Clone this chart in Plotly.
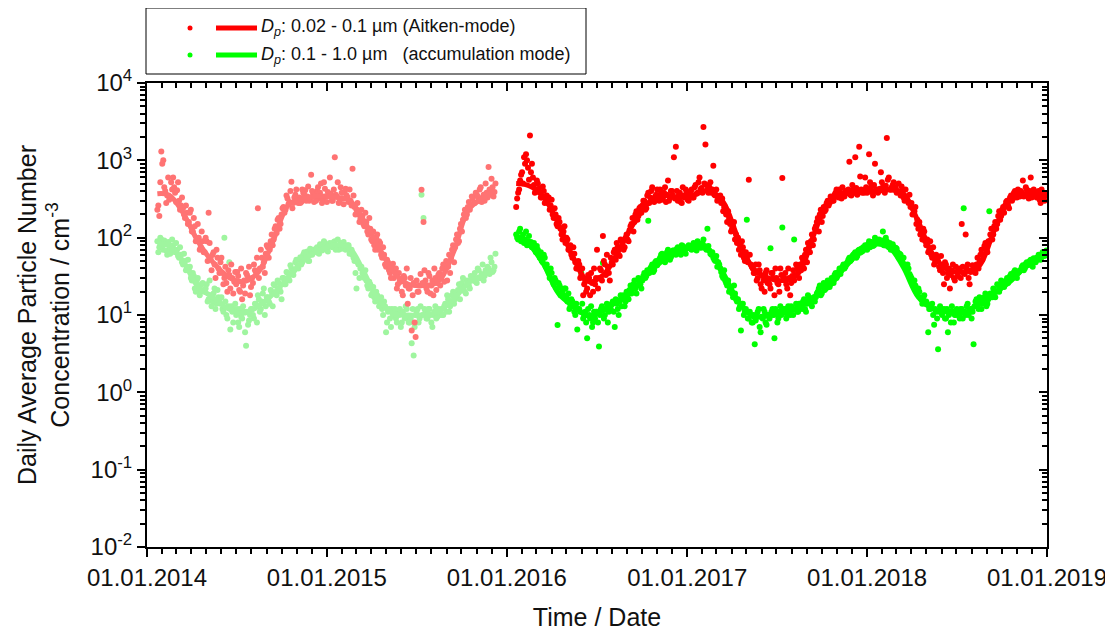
import pandas as pd
import plotly.graph_objects as go

# ---- daily averages ----
# two interleaved sets per period: days 0, 4, 8, ... and days 2, 6, 10, ...
P1_START = "2014-01-22"
P1_START_MID = "2014-01-24"
P2_START = "2016-01-20"
P2_START_MID = "2016-01-22"

aitken_p1 = [
    230, 190, 1300, 1000, 400, 350, 310, 520,
    600, 380, 410, 300, 260, 240, 180, 210,
    160, 230, 120, 140, 95, 100, 75, 90,
    65, 90, 210, 55, 60, 45, 70, 40,
    48, 35, 30, 26, 38, 22, 30, 27,
    25, 32, 20, 16, 28, 35, 30, 18,
    30, 45, 36, 240, 40, 55, 48, 62,
    75, 70, 110, 95, 140, 170, 130, 200,
    250, 230, 320, 290, 530, 280, 360, 310,
    330, 290, 380, 410, 340, 300, 650, 370,
    360, 400, 320, 500, 310, 430, 290, 350,
    370, 300, 1100, 340, 280, 450, 320, 390,
    350, 290, 300, 780, 250, 230, 200, 175,
    190, 140, 160, 110, 130, 90, 80, 100,
    70, 85, 55, 60, 42, 48, 35, 40,
    30, 40, 25, 28, 20, 32, 24, 14,
    22, 6.3, 26, 5.2, 20, 24, 415, 160,
    28, 20, 32, 24, 18, 30, 26, 35,
    30, 45, 38, 28, 60, 55, 80, 75,
    110, 90, 150, 170, 230, 200, 290, 260,
    320, 280, 360, 300, 450, 330, 300, 380,
    820, 360, 450, 390,
]
aitken_p1_mid = [
    260, 520, 900, 450, 280, 600, 330, 420,
    450, 290, 520, 230, 330, 200, 260, 150,
    210, 120, 180, 90, 150, 70, 120, 65,
    100, 50, 85, 38, 65, 30, 55, 35,
    55, 25, 42, 20, 33, 45, 19, 36,
    36, 21, 40, 24, 19, 33, 42, 23,
    26, 38, 55, 30, 70, 42, 35, 80,
    55, 90, 80, 130, 115, 180, 150, 240,
    210, 350, 270, 400, 240, 330, 420, 280,
    280, 420, 360, 300, 460, 320, 400, 290,
    300, 450, 380, 280, 520, 340, 390, 600,
    300, 420, 360, 520, 300, 380, 270, 430,
    330, 420, 260, 350, 200, 280, 160, 230,
    150, 210, 120, 180, 95, 120, 70, 110,
    90, 60, 75, 45, 52, 38, 30, 46,
    38, 22, 35, 27, 18, 30, 40, 22,
    30, 18, 8, 28, 20, 34, 26, 38,
    22, 35, 19, 28, 40, 21, 33, 24,
    40, 27, 50, 42, 35, 70, 48, 95,
    85, 130, 120, 200, 180, 250, 230, 340,
    280, 380, 340, 420, 290, 360, 500, 330,
    420, 580, 340, 500,
]

accum_p1 = [
    90, 75, 95, 70, 85, 60, 80, 72,
    80, 65, 70, 55, 60, 45, 50, 42,
    38, 30, 35, 22, 28, 24, 20, 26,
    20, 25, 16, 18, 15, 22, 14, 17,
    14, 12, 100, 10, 13, 6.5, 11, 12,
    10, 8, 12, 9, 11, 4, 7.5, 10,
    12, 9, 14, 18, 11, 15, 22, 13,
    17, 14, 20, 25, 19, 28, 22, 16,
    30, 25, 35, 28, 40, 33, 48, 42,
    52, 45, 60, 55, 66, 50, 62, 70,
    68, 75, 62, 80, 70, 85, 72, 78,
    82, 75, 90, 78, 70, 85, 76, 80,
    72, 80, 65, 60, 50, 22, 45, 40,
    35, 30, 28, 22, 25, 19, 17, 20,
    16, 14, 12, 15, 6, 11, 9, 12,
    10, 9, 11, 12, 8, 10, 13, 9,
    8, 4.3, 3.0, 10, 12, 9, 360, 180,
    11, 9, 12, 8, 10, 13, 9.5, 11,
    12, 10, 14, 18, 11, 15, 20, 16,
    18, 25, 22, 30, 20, 28, 24, 32,
    28, 35, 26, 38, 30, 45, 32, 36,
    40, 55, 36, 42,
]
accum_p1_mid = [
    65, 100, 78, 92, 68, 88, 62, 95,
    70, 85, 58, 75, 48, 62, 38, 52,
    42, 28, 32, 20, 30, 18, 25, 21,
    22, 15, 28, 13, 19, 12, 21, 15,
    17, 11, 15, 9, 48, 13, 8, 14,
    12, 7, 9.5, 13, 6, 11, 8.5, 12,
    10, 14, 8, 16, 12, 19, 10, 17,
    15, 21, 13, 24, 18, 26, 20, 30,
    25, 36, 30, 44, 34, 38, 52, 40,
    56, 48, 65, 58, 50, 72, 60, 68,
    72, 64, 82, 68, 90, 74, 66, 85,
    76, 88, 70, 95, 80, 72, 88, 70,
    80, 62, 70, 55, 35, 48, 30, 42,
    32, 38, 24, 27, 18, 23, 15, 18,
    13, 17, 10, 13, 8, 12, 7, 10,
    12, 8, 10, 7, 11, 9, 12, 8,
    9, 12, 7, 11, 8, 13, 10, 12,
    9, 12, 10, 7, 11, 9, 12, 10,
    10, 13, 11, 16, 13, 18, 14, 19,
    21, 16, 26, 23, 19, 27, 22, 29,
    32, 27, 40, 30, 34, 28, 38, 42,
    34, 48, 38, 62,
]

aitken_p2 = [
    250, 380, 550, 700, 1100, 1200, 800, 2100,
    900, 480, 420, 500, 380, 330, 400, 290,
    280, 230, 310, 180, 200, 140, 160, 110,
    120, 85, 95, 70, 60, 75, 48, 40,
    45, 32, 18, 28, 22, 30, 35, 20,
    25, 70, 30, 38, 105, 45, 60, 35,
    55, 45, 70, 85, 60, 95, 80, 75,
    110, 90, 140, 180, 160, 220, 190, 250,
    260, 300, 240, 380, 330, 450, 290, 360,
    350, 420, 310, 380, 290, 550, 330, 400,
    1100, 1500, 300, 380, 280, 350, 420, 310,
    360, 420, 330, 480, 380, 600, 440, 2700,
    1600, 420, 450, 380, 850, 350, 300, 320,
    280, 220, 250, 160, 180, 120, 140, 95,
    85, 70, 60, 75, 50, 55, 560, 45,
    40, 35, 28, 45, 25, 32, 20, 38,
    28, 22, 35, 18, 30, 25, 40, 590,
    30, 25, 40, 18, 32, 28, 45, 38,
    45, 55, 40, 70, 85, 65, 110, 95,
    140, 180, 200, 160, 250, 230, 300, 280,
    330, 300, 380, 350, 420, 320, 370, 400,
    380, 960, 350, 420, 1100, 360, 1500, 420,
    410, 600, 380, 1200, 450, 350, 900, 420,
    400, 700, 450, 380, 1950, 600, 420, 480,
    420, 380, 500, 350, 400, 300, 330, 280,
    250, 200, 220, 150, 130, 110, 95, 120,
    80, 65, 90, 55, 45, 60, 50, 38,
    40, 25, 45, 35, 22, 38, 30, 42,
    32, 40, 150, 35, 110, 45, 25, 38,
    42, 35, 55, 48, 70, 60, 85, 65,
    90, 130, 110, 160, 150, 220, 190, 250,
    260, 300, 240, 350, 320, 400, 330, 380,
    400, 550, 360, 420, 320, 600, 380, 350,
    330, 400, 280, 370, 300, 350,
]
aitken_p2_mid = [
    320, 420, 650, 500, 900, 1000, 560, 700,
    600, 380, 550, 430, 330, 460, 280, 350,
    330, 260, 200, 240, 150, 180, 130, 95,
    140, 100, 70, 80, 55, 62, 40, 50,
    30, 40, 25, 20, 33, 18, 26, 40,
    30, 22, 40, 28, 50, 33, 42, 28,
    48, 65, 52, 75, 58, 90, 70, 100,
    95, 125, 150, 120, 200, 170, 240, 210,
    300, 230, 350, 280, 400, 310, 340, 420,
    300, 380, 330, 450, 360, 300, 400, 350,
    320, 400, 350, 290, 450, 330, 380, 300,
    400, 330, 450, 370, 520, 420, 380, 500,
    480, 380, 520, 420, 360, 420, 320, 350,
    320, 250, 200, 220, 150, 130, 160, 110,
    100, 80, 90, 55, 65, 48, 60, 42,
    35, 45, 30, 38, 22, 28, 35, 26,
    25, 35, 30, 40, 26, 20, 33, 30,
    35, 22, 30, 26, 38, 33, 40, 30,
    38, 50, 60, 48, 75, 90, 80, 130,
    160, 120, 230, 190, 220, 280, 260, 340,
    300, 360, 420, 330, 380, 450, 340, 390,
    420, 360, 480, 380, 440, 400, 620, 380,
    380, 450, 420, 520, 390, 480, 420, 380,
    430, 520, 400, 470, 560, 420, 450, 520,
    450, 400, 380, 460, 330, 420, 300, 360,
    280, 230, 250, 170, 160, 120, 130, 90,
    95, 70, 60, 75, 50, 55, 42, 58,
    35, 48, 30, 40, 33, 45, 28, 36,
    38, 30, 42, 34, 40, 30, 36, 44,
    36, 45, 40, 60, 52, 78, 70, 90,
    110, 95, 140, 130, 190, 170, 230, 210,
    290, 260, 330, 300, 380, 350, 420, 340,
    380, 340, 450, 370, 400, 330, 420, 390,
    380, 310, 420, 330, 360,
]

accum_p2 = [
    110, 95, 130, 100, 85, 120, 90, 80,
    75, 85, 65, 70, 55, 50, 60, 42,
    38, 30, 35, 25, 28, 7.4, 24, 22,
    18, 22, 15, 12, 16, 13, 10, 6.5,
    12, 35, 9, 11, 5, 10, 13, 8,
    9, 11, 3.9, 12, 47, 10, 14, 11,
    12, 15, 7, 14, 10, 18, 16, 13,
    20, 16, 24, 22, 28, 19, 30, 25,
    28, 35, 32, 165, 40, 45, 38, 50,
    48, 55, 62, 50, 58, 70, 52, 65,
    68, 60, 75, 65, 80, 70, 62, 74,
    78, 70, 85, 72, 90, 76, 80, 95,
    75, 130, 68, 60, 55, 50, 42, 45,
    36, 30, 28, 24, 20, 22, 17, 19,
    15, 12, 6.3, 14, 11, 170, 9, 10,
    8, 4.2, 10, 12, 6, 9, 11, 7.5,
    10, 73, 12, 5, 11, 9, 13, 135,
    11, 9, 13, 10, 12, 95, 14, 11,
    14, 12, 16, 11, 18, 15, 13, 17,
    17, 20, 24, 19, 26, 22, 28, 23,
    30, 26, 35, 32, 40, 38, 45, 42,
    48, 55, 52, 60, 65, 58, 70, 72,
    75, 80, 70, 90, 85, 78, 100, 88,
    95, 85, 120, 80, 90, 75, 70, 82,
    68, 72, 55, 60, 48, 45, 38, 40,
    32, 26, 28, 20, 22, 17, 14, 18,
    15, 6, 12, 14, 7.5, 11, 3.6, 13,
    10, 12, 9, 6, 11, 13, 8, 10,
    11, 9, 12, 240, 10, 14, 11, 9,
    4.2, 15, 13, 17, 12, 16, 19, 14,
    220, 18, 22, 17, 25, 20, 28, 24,
    26, 30, 28, 34, 32, 38, 30, 36,
    38, 44, 40, 48, 45, 52, 42, 50,
    55, 60, 52, 65, 58, 68,
]
accum_p2_mid = [
    100, 120, 90, 110, 95, 80, 105, 88,
    82, 70, 78, 60, 65, 48, 55, 45,
    35, 40, 28, 30, 22, 26, 18, 20,
    22, 17, 19, 13, 15, 11, 14, 12,
    11, 14, 10, 8, 12, 9, 7, 11,
    11, 8, 10, 13, 9, 12, 8, 13,
    14, 11, 16, 12, 15, 13, 18, 15,
    17, 21, 19, 25, 22, 24, 27, 22,
    32, 30, 38, 35, 42, 36, 48, 44,
    52, 60, 55, 48, 65, 60, 56, 68,
    65, 72, 70, 60, 78, 68, 75, 80,
    72, 80, 75, 68, 82, 74, 85, 78,
    70, 78, 62, 65, 52, 58, 48, 40,
    32, 38, 26, 28, 22, 19, 24, 16,
    16, 13, 14, 10, 12, 9, 11, 8,
    10, 8.5, 11, 7, 9.5, 12, 8, 10,
    9, 11, 10, 12, 8, 11, 10, 12,
    12, 10, 11, 13, 10, 12, 11, 14,
    13, 15, 12, 14, 17, 14, 16, 15,
    19, 22, 18, 23, 21, 25, 24, 27,
    28, 33, 30, 36, 34, 42, 40, 46,
    52, 50, 58, 62, 55, 68, 64, 66,
    70, 76, 82, 75, 88, 80, 86, 92,
    88, 92, 80, 100, 78, 85, 72, 76,
    74, 65, 62, 52, 55, 42, 45, 34,
    30, 25, 24, 19, 20, 16, 17, 14,
    14, 12, 13, 10, 12, 9, 11, 12,
    11, 9, 12, 10, 8, 11, 10, 12,
    10, 12, 9, 11, 13, 10, 12, 11,
    13, 16, 12, 15, 14, 17, 13, 16,
    19, 17, 21, 20, 24, 22, 26, 23,
    28, 26, 32, 30, 36, 33, 35, 38,
    42, 38, 46, 44, 50, 47, 54, 48,
    52, 58, 56, 62, 60,
]

# ---- smoothed curves (thick lines) ----
smooth_dates_p1 = [
    "2014-01-22", "2014-02-15", "2014-03-15", "2014-04-15", "2014-05-15", "2014-06-15",
    "2014-07-15", "2014-08-15", "2014-09-15", "2014-10-15", "2014-11-15", "2014-12-15",
    "2015-01-15", "2015-02-15", "2015-03-15", "2015-04-15", "2015-05-15", "2015-06-15",
    "2015-07-15", "2015-08-15", "2015-09-15", "2015-10-15", "2015-11-15", "2015-12-07",
]
aitken_smooth_p1 = [370, 355, 210, 88, 48, 31, 27, 36, 95, 265, 320, 345,
                    335, 305, 175, 78, 37, 25, 24, 27, 65, 230, 330, 410]
accum_smooth_p1 = [85, 78, 50, 23, 17, 12, 10.5, 13, 19, 31, 51, 68,
                   80, 74, 38, 16, 10.5, 10, 10, 11, 16, 26, 33, 38]

smooth_dates_p2 = [
    "2016-01-20", "2016-02-15", "2016-03-15", "2016-04-15", "2016-05-15", "2016-06-15",
    "2016-07-15", "2016-08-15", "2016-09-15", "2016-10-15", "2016-11-15", "2016-12-15",
    "2017-01-15", "2017-02-15", "2017-03-15", "2017-04-15", "2017-05-15", "2017-06-15",
    "2017-07-15", "2017-08-15", "2017-09-15", "2017-10-15", "2017-11-15", "2017-12-15",
    "2018-01-15", "2018-02-15", "2018-03-15", "2018-04-15", "2018-05-15", "2018-06-15",
    "2018-07-15", "2018-08-15", "2018-09-15", "2018-10-15", "2018-11-15", "2018-12-15",
    "2018-12-31",
]
aitken_smooth_p2 = [500, 470, 340, 150, 55, 27, 33, 68, 155, 285, 350, 330,
                    360, 405, 290, 95, 40, 30, 28, 35, 110, 300, 365, 385,
                    395, 415, 375, 160, 60, 38, 36, 42, 120, 290, 370, 360, 340]
accum_smooth_p2 = [107, 82, 46, 19, 13, 9.7, 11.5, 15.5, 22, 35, 52, 65,
                   75, 68, 35, 15, 9.5, 9.8, 10.5, 12.5, 17, 23, 40, 63,
                   82, 75, 42, 17, 12, 10.8, 10.5, 14, 19, 26, 40, 55, 63]

y_tickvals = [0.01, 0.1, 1, 10, 100, 1000, 10000]
y_ticktext = ["10<sup>-2</sup>", "10<sup>-1</sup>", "10<sup>0</sup>", "10<sup>1</sup>",
              "10<sup>2</sup>", "10<sup>3</sup>", "10<sup>4</sup>"]

RED, GREEN = "#ff0000", "#00ff00"
RED_LIGHT, GREEN_LIGHT = "#ff7373", "#9ff59f"
FONT = "Arial, Liberation Sans, sans-serif"


def days(start, vals):
    return pd.date_range(start, periods=len(vals), freq="4D")


fig = go.Figure()


def dots(x, y, color):
    fig.add_trace(go.Scatter(x=x, y=y, mode="markers", showlegend=False,
                             marker=dict(size=6, color=color, line=dict(width=0))))


def curve(x, y, color):
    fig.add_trace(go.Scatter(x=x, y=y, mode="lines", showlegend=False,
                             line=dict(color=color, width=5, shape="spline", smoothing=1)))


dots(days(P1_START, accum_p1), accum_p1, GREEN_LIGHT)
dots(days(P1_START_MID, accum_p1_mid), accum_p1_mid, GREEN_LIGHT)
dots(days(P1_START, aitken_p1), aitken_p1, RED_LIGHT)
dots(days(P1_START_MID, aitken_p1_mid), aitken_p1_mid, RED_LIGHT)
dots(days(P2_START, accum_p2), accum_p2, GREEN)
dots(days(P2_START_MID, accum_p2_mid), accum_p2_mid, GREEN)
dots(days(P2_START, aitken_p2), aitken_p2, RED)
dots(days(P2_START_MID, aitken_p2_mid), aitken_p2_mid, RED)
curve(smooth_dates_p1, accum_smooth_p1, GREEN_LIGHT)
curve(smooth_dates_p1, aitken_smooth_p1, RED_LIGHT)
curve(smooth_dates_p2, accum_smooth_p2, GREEN)
curve(smooth_dates_p2, aitken_smooth_p2, RED)

# empty trace so the mirrored top/right axes get drawn
fig.add_trace(go.Scatter(x=[], y=[], xaxis="x2", yaxis="y2", showlegend=False, hoverinfo="skip"))

x_range = ["2014-01-01", "2019-01-01"]
minor_y = [m * 10.0 ** e for e in range(-2, 4) for m in range(2, 10)]

xcommon = dict(type="date", range=x_range, tick0="2014-01-01", dtick="M12",
               ticklen=8, tickwidth=1.5, tickcolor="black", automargin=False,
               showline=True, linecolor="black", linewidth=2, showgrid=False, zeroline=False)
ycommon = dict(type="log", range=[-2, 4], tickmode="array", tickvals=y_tickvals,
               ticklen=8, tickwidth=1.5, tickcolor="black", automargin=False,
               showline=True, linecolor="black", linewidth=2, showgrid=False, zeroline=False)

# the page body adds an 8 px offset, so the figure is 8 px smaller and margins shift
fig.update_layout(
    width=1105, height=624,
    plot_bgcolor="white", paper_bgcolor="white",
    font=dict(family=FONT, size=24, color="#111111"),
    margin=dict(t=75, l=139, r=66, b=85),
    showlegend=False,
    xaxis=dict(**xcommon, ticks="outside", tickformat="%d.%m.%Y",
               tickfont=dict(size=24, color="#111111"),
               minor=dict(ticks="outside", ticklen=5, tickcolor="black", dtick="M1",
                          tick0="2014-01-01", showgrid=False),
               title=dict(text="Time / Date", font=dict(size=25), standoff=19)),
    yaxis=dict(**ycommon, ticks="outside", ticktext=y_ticktext,
               tickfont=dict(size=24, color="#111111"),
               minor=dict(ticks="outside", ticklen=5, tickcolor="black",
                          tickmode="array", tickvals=minor_y, showgrid=False),
               title=dict(text="Daily Average Particle Number<br>Concentration / cm<sup>-3</sup>",
                          font=dict(size=25), standoff=14)),
    xaxis2=dict(**xcommon, overlaying="x", side="top", anchor="y2", ticks="inside",
                showticklabels=False,
                minor=dict(ticks="inside", ticklen=5, tickcolor="black", dtick="M1",
                           tick0="2014-01-01", showgrid=False)),
    yaxis2=dict(**ycommon, overlaying="y", side="right", anchor="x2", ticks="inside",
                showticklabels=False,
                minor=dict(ticks="inside", ticklen=5, tickcolor="black",
                           tickmode="array", tickvals=minor_y, showgrid=False)),
)

# ---- hand-drawn legend box (paper coords: plot area = 900 x 464 px) ----
def px_x(p):
    return (p - 147) / 900.0


def px_y(p):
    return (547 - p) / 464.0


fig.add_shape(type="rect", xref="paper", yref="paper",
              x0=px_x(146), x1=px_x(586), y0=px_y(74), y1=px_y(8),
              line=dict(color="black", width=1), fillcolor="white", layer="above")

legend_rows = [
    (28, RED, "<i>D</i><sub><i>p</i></sub>: 0.02 - 0.1 µm (Aitken-mode)"),
    (55, GREEN, "<i>D</i><sub><i>p</i></sub>: 0.1 - 1.0 µm \u00a0 (accumulation mode)"),
]
for ypix, color, label in legend_rows:
    fig.add_shape(type="circle", xref="paper", yref="paper",
                  x0=px_x(187.5), x1=px_x(192.5), y0=px_y(ypix + 2.5), y1=px_y(ypix - 2.5),
                  line=dict(width=0), fillcolor=color, layer="above")
    fig.add_shape(type="line", xref="paper", yref="paper",
                  x0=px_x(216), x1=px_x(257), y0=px_y(ypix), y1=px_y(ypix),
                  line=dict(color=color, width=5), layer="above")
    fig.add_annotation(xref="paper", yref="paper", x=px_x(259), y=px_y(ypix),
                       xanchor="left", yanchor="middle", showarrow=False,
                       text=label, font=dict(size=18, color="#111111"))

fig.write_html("out.html")
